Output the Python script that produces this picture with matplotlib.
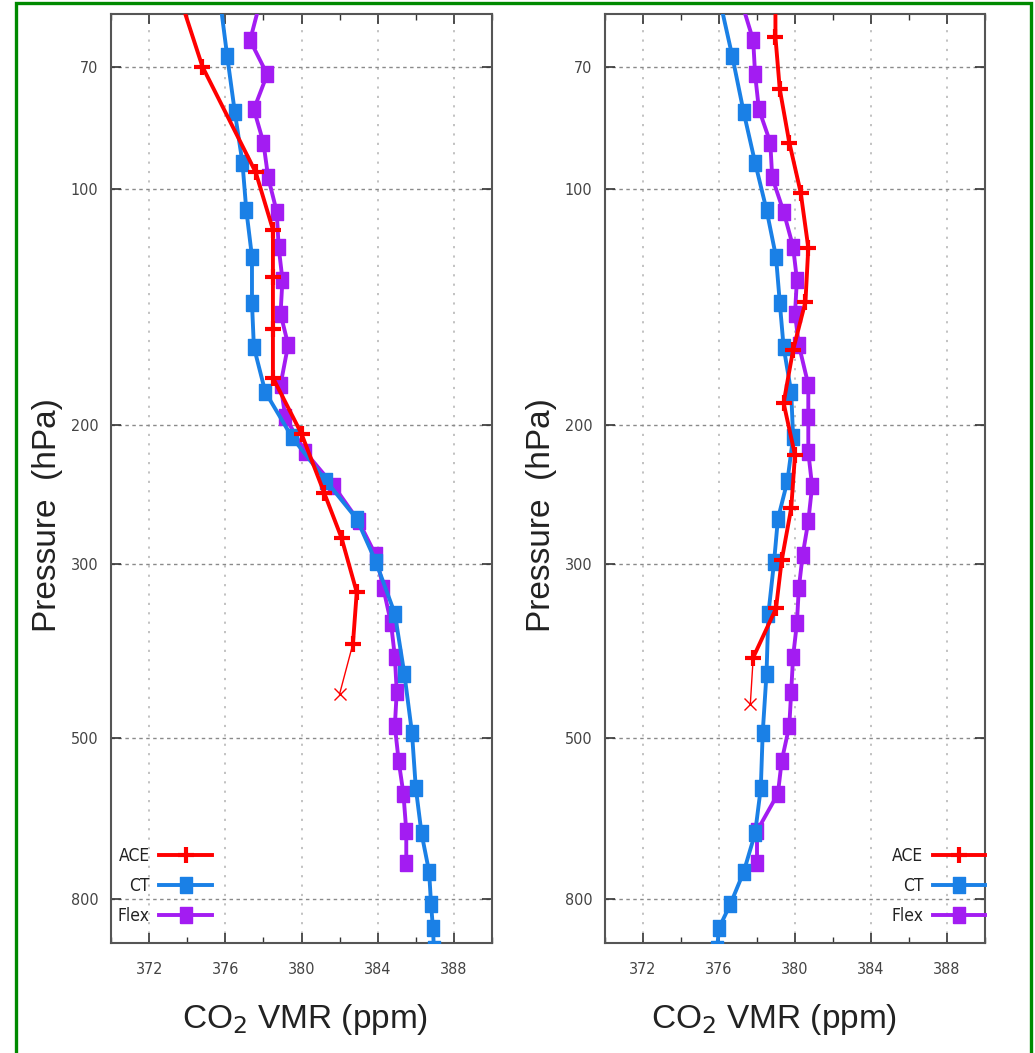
import matplotlib
matplotlib.use("Agg")
import matplotlib.pyplot as plt
from matplotlib.patches import Rectangle
from matplotlib.ticker import FixedLocator, NullLocator, MultipleLocator, FixedFormatter

# ---------------- data ----------------
x_ticks = [372, 376, 380, 384, 388]
y_ticks = [70, 100, 200, 300, 500, 800]
y_tick_labels = ["70", "100", "200", "300", "500", "800"]
series_names = ["ACE", "CT", "Flex"]

# Left panel
ace_l_p = [57, 70, 95.4, 112.8, 129.5, 151, 174, 205, 244, 278, 326, 379]
ace_l_v = [373.6, 374.8, 377.6, 378.5, 378.5, 378.5, 378.5, 380.0, 381.2, 382.1, 382.9, 382.7]
ace_l_last_p = 439
ace_l_last_v = 382.0

ct_p = [57, 67.9, 80.0, 92.7, 106.4, 122.1, 139.7, 159, 181.4, 207, 235.5, 263, 298, 347,
        414, 492, 578, 660, 739, 812, 871, 925]
ct_l_v = [375.7, 376.1, 376.5, 376.9, 377.1, 377.4, 377.4, 377.5, 378.1, 379.5, 381.3, 382.9,
          383.9, 384.9, 385.4, 385.8, 386.0, 386.3, 386.7, 386.8, 386.9, 386.95]

flex_p = [57, 64.8, 71.6, 79.3, 87.4, 96.8, 107, 118.6, 130.6, 144.3, 158, 177.6, 195.2,
          216.3, 238.9, 264.8, 292.6, 322.4, 357, 393.5, 436, 482, 534, 588, 655.5, 720]
flex_l_v = [377.9, 377.3, 378.2, 377.5, 378.0, 378.25, 378.7, 378.8, 379.0, 378.9, 379.3, 378.9,
            379.15, 380.2, 381.7, 383.0, 383.9, 384.3, 384.7, 384.9, 385.0, 384.9, 385.1, 385.35,
            385.5, 385.5]

# Right panel
ace_r_p = [55, 64.2, 74.8, 87.4, 101.2, 118.9, 139.3, 160.4, 187.3, 218.2, 254.9, 296.9, 341.8, 394.6]
ace_r_v = [378.97, 378.97, 379.2, 379.7, 380.3, 380.7, 380.55, 379.9, 379.4, 380.0, 379.8, 379.3,
           379.0, 377.8]
ace_r_last_p = 451.7
ace_r_last_v = 377.65

ct_r_v = [376.0, 376.7, 377.3, 377.9, 378.5, 379.0, 379.2, 379.4, 379.8, 379.9, 379.6, 379.1,
          378.9, 378.6, 378.5, 378.3, 378.2, 377.9, 377.3, 376.6, 376.0, 375.9]

flex_r_v = [377.1, 377.8, 377.9, 378.1, 378.7, 378.8, 379.4, 379.9, 380.1, 380.0, 380.2, 380.7,
            380.7, 380.7, 380.9, 380.7, 380.4, 380.2, 380.1, 379.9, 379.8, 379.7, 379.3, 379.1,
            378.0, 378.0]

# ---------------- style ----------------
RED = "#ff0000"
BLUE = "#1a80e6"
PURPLE = "#a31cf2"
TICK_FONT = ["Liberation Sans Narrow", "DejaVu Sans"]
LABEL_FONT = ["Liberation Sans", "DejaVu Sans"]
SQUARE = [(-0.78, -1), (0.78, -1), (0.78, 1), (-0.78, 1), (-0.78, -1)]

fig = plt.figure(figsize=(10.35, 10.53), dpi=100)
fig.patch.set_facecolor("white")

# green frame
fig.patches.append(Rectangle((15.5 / 1035, -0.02), (1031 - 15.5) / 1035, 1.02 - 3 / 1053,
                             transform=fig.transFigure, fill=False, edgecolor="#008a00",
                             linewidth=2.4, zorder=0))

axL = fig.add_axes([111 / 1035, 1 - 943 / 1053, 381 / 1035, 929 / 1053])
axR = fig.add_axes([605 / 1035, 1 - 943 / 1053, 380 / 1035, 929 / 1053])


def draw(ax, ace_p, ace_v, ace_last_p, ace_last_v, ct_v, flex_v, legend_loc, anchor, xlab_x):
    ax.plot([ace_v[-1], ace_last_v], [ace_p[-1], ace_last_p], color=RED, lw=1.0, zorder=3)
    ax.plot([ace_last_v], [ace_last_p], color=RED, marker="x", ms=8, mew=1.0, ls="none", zorder=3)
    l_flex, = ax.plot(flex_v, flex_p, color=PURPLE, lw=2.8, marker=SQUARE, ms=11, label="Flex", zorder=4)
    l_ct, = ax.plot(ct_v, ct_p, color=BLUE, lw=2.8, marker=SQUARE, ms=11, label="CT", zorder=5)
    l_ace, = ax.plot(ace_v, ace_p, color=RED, lw=2.8, marker="+", ms=11, mew=3.0, label="ACE", zorder=6)

    ax.set_yscale("log")
    ax.set_ylim(910, 60)
    ax.set_xlim(370, 390)

    ax.yaxis.set_major_locator(FixedLocator(y_ticks))
    ax.yaxis.set_major_formatter(FixedFormatter(y_tick_labels))
    ax.yaxis.set_minor_locator(NullLocator())
    ax.xaxis.set_major_locator(FixedLocator(x_ticks))
    ax.xaxis.set_minor_locator(MultipleLocator(2))

    ax.tick_params(which="both", direction="in", top=True, right=True, colors="#333333",
                   labelcolor="#444444", labelsize=11.5)
    ax.tick_params(which="major", length=7, width=1.2)
    ax.tick_params(which="minor", length=4, width=1.0)
    ax.tick_params(axis="x", pad=14)
    ax.tick_params(axis="y", pad=9)
    for lab in ax.get_xticklabels() + ax.get_yticklabels():
        lab.set_family(TICK_FONT)
        lab.set_stretch("condensed")

    ax.xaxis.grid(True, color="#bdbdbd", linestyle=(0, (1.2, 4)), lw=1.3)
    ax.yaxis.grid(True, color="#8a8a8a", linestyle=(0, (2.5, 2.5)), lw=1.0)
    ax.set_axisbelow(True)
    for s in ax.spines.values():
        s.set_color("#555555")
        s.set_linewidth(1.5)

    ax.set_ylabel("Pressure  (hPa)", fontsize=24, family=LABEL_FONT, color="#222222")
    ax.yaxis.set_label_coords(-0.126, 0.461)
    ax.set_xlabel("CO$_2$ VMR (ppm)", fontsize=24, family=LABEL_FONT, color="#222222")
    ax.xaxis.set_label_coords(xlab_x, -0.064)

    leg = ax.legend([l_ace, l_ct, l_flex], series_names, loc=legend_loc, bbox_to_anchor=anchor,
                    markerfirst=False, frameon=False, numpoints=1, handlelength=3.0,
                    handletextpad=0.55, labelspacing=0.7, borderaxespad=0.0,
                    prop={"family": TICK_FONT, "size": 12.5, "stretch": "condensed"})
    for t in leg.get_texts():
        t.set_color("#222222")


draw(axL, ace_l_p, ace_l_v, ace_l_last_p, ace_l_last_v, ct_l_v, flex_l_v, "lower left",
     (0.0, 0.012), 0.51)
draw(axR, ace_r_p, ace_r_v, ace_r_last_p, ace_r_last_v, ct_r_v, flex_r_v, "lower right",
     (1.018, 0.012), 0.445)

fig.savefig("out.png", dpi=100, facecolor="white")
